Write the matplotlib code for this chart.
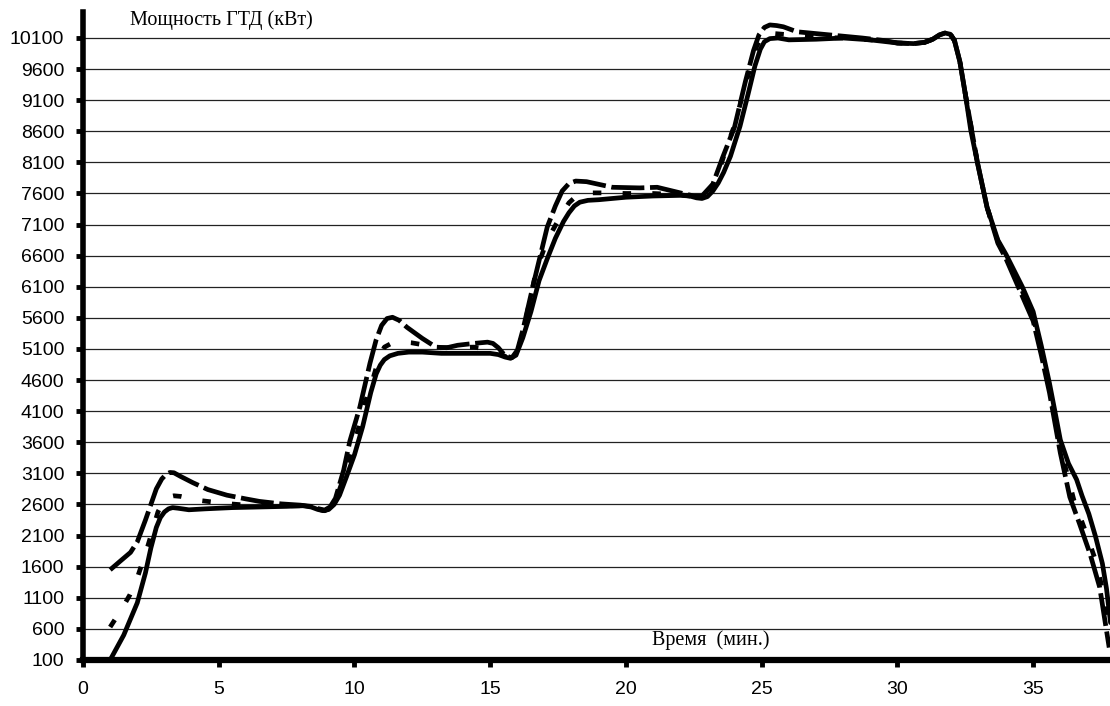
import matplotlib
matplotlib.use("Agg")
import matplotlib.pyplot as plt

# Solid curve
t_solid = [1.0, 1.5, 2.0, 2.3, 2.5, 2.7, 2.85, 3.0, 3.15, 3.3, 3.5, 3.9, 4.5, 5.5, 6.5, 7.5, 8.1, 8.4, 8.65, 8.85,
           9.05, 9.25, 9.45, 9.7, 10.0, 10.3, 10.6, 10.8, 10.95, 11.1, 11.3, 11.6, 12.0, 12.5, 13.2, 14.0, 15.0, 15.3,
           15.55, 15.75, 15.95, 16.2, 16.5, 16.8, 17.1, 17.4, 17.7, 17.9, 18.1, 18.3, 18.6, 19.0, 20.0, 21.0, 22.0,
           22.35, 22.6, 22.8, 23.0, 23.2, 23.4, 23.6, 23.85, 24.2, 24.5, 24.75, 24.95, 25.1, 25.3, 25.6, 26.0, 27.0,
           28.0, 29.0, 30.0, 30.6, 31.0, 31.3, 31.55, 31.75, 31.95, 32.1, 32.3, 32.5, 32.7, 32.95, 33.3, 33.7, 34.0,
           34.3, 34.6, 35.0, 35.3, 35.6, 35.8, 36.0, 36.3, 36.6, 36.8, 37.05, 37.3, 37.55, 37.7, 37.85]
p_solid = [100, 500, 1020, 1500, 1900, 2230, 2390, 2480, 2530, 2550, 2540, 2515, 2530, 2550, 2560, 2570, 2580, 2560,
           2520, 2500, 2520, 2600, 2750, 3040, 3400, 3850, 4400, 4700, 4840, 4930, 4990, 5030, 5050, 5050, 5030, 5030,
           5030, 5010, 4970, 4950, 5000, 5280, 5700, 6200, 6550, 6880, 7150, 7290, 7400, 7460, 7490, 7500, 7540, 7560,
           7570, 7560, 7530, 7520, 7550, 7640, 7770, 7940, 8200, 8680, 9200, 9650, 9920, 10040, 10090, 10100, 10070,
           10080, 10100, 10070, 10020, 10010, 10030, 10080, 10150, 10180, 10160, 10060, 9720, 9200, 8620, 8090, 7380,
           6850, 6620, 6360, 6100, 5700, 5150, 4550, 4100, 3640, 3260, 3000, 2740, 2450, 2080, 1650, 1250, 700]

# Long-dash curve (with overshoots)
t_long = [1.0, 1.4, 1.75, 2.0, 2.3, 2.5, 2.7, 2.9, 3.05, 3.2, 3.35, 3.6, 4.05, 4.6, 5.3, 6.0, 6.5, 7.3, 8.0, 8.4,
          8.7, 8.9, 9.1, 9.3, 9.6, 9.83, 10.2, 10.57, 10.8, 11.0, 11.2, 11.4, 11.65, 11.93, 12.5, 13.0, 13.4, 13.8,
          14.4, 14.9, 15.1, 15.3, 15.55, 15.8, 16.0, 16.2, 16.6, 17.1, 17.4, 17.65, 17.9, 18.15, 18.55, 19.5, 20.5,
          21.15, 22.0, 22.5, 22.8, 23.2, 23.57, 24.0, 24.4, 24.7, 24.9, 25.1, 25.3, 25.55, 25.8, 26.3, 27.5, 28.7,
          29.5, 30.0, 30.6, 31.0, 31.3, 31.55, 31.75, 31.95, 32.1, 32.3, 32.5, 32.95, 33.3, 33.7, 34.0, 34.3, 34.6,
          35.0, 35.3, 35.6, 36.0, 36.35, 36.7, 37.1, 37.45, 37.8]
p_long = [1550, 1700, 1830, 2000, 2350, 2600, 2850, 3010, 3080, 3115, 3110, 3050, 2950, 2840, 2750, 2690, 2650, 2610,
          2590, 2570, 2530, 2510, 2560, 2700, 3150, 3620, 4170, 4870, 5250, 5480, 5590, 5610, 5560, 5450, 5270, 5130,
          5120, 5160, 5190, 5210, 5190, 5120, 4990, 4960, 5080, 5400, 6160, 7060, 7400, 7640, 7760, 7800, 7790, 7700,
          7690, 7700, 7610, 7560, 7560, 7750, 8190, 8670, 9400, 9900, 10150, 10270, 10310, 10300, 10280, 10200, 10150,
          10100, 10060, 10020, 10010, 10030, 10080, 10150, 10180, 10160, 10060, 9720, 9200, 8090, 7380, 6800, 6550,
          6250, 5950, 5550, 5000, 4400, 3430, 2720, 2300, 1800, 1270, 300]

# Short-dash curve
t_short = [1.0, 1.4, 1.73, 2.0, 2.4, 2.76, 2.95, 3.13, 3.35, 3.6, 4.2, 5.15, 6.0, 7.0, 8.0, 8.4, 8.7, 8.9, 9.1, 9.4,
           9.7, 10.1, 10.4, 10.7, 10.9, 11.1, 11.4, 11.8, 12.1, 13.15, 14.4, 15.0, 15.3, 15.55, 15.8, 16.0, 16.2,
           16.7, 17.1, 17.57, 17.9, 18.2, 18.6, 19.15, 20.0, 21.0, 22.0, 22.5, 22.75, 23.0, 23.35, 23.6, 24.0, 24.4,
           24.8, 25.0, 25.2, 25.5, 26.05, 27.0, 28.0, 29.0, 30.0, 30.6, 31.0, 31.3, 31.55, 31.75, 31.95, 32.1, 32.3,
           32.5, 32.95, 33.3, 33.7, 34.0, 34.3, 34.6, 35.0, 35.3, 35.6, 36.05, 36.5, 36.9, 37.3, 37.6, 37.85]
p_short = [630, 900, 1150, 1420, 1950, 2480, 2640, 2720, 2740, 2730, 2670, 2620, 2590, 2580, 2580, 2560, 2520, 2500,
           2540, 2780, 3150, 3750, 4250, 4650, 4950, 5130, 5200, 5210, 5200, 5120, 5130, 5090, 5040, 4980, 4960, 5050,
           5350, 6370, 6850, 7220, 7450, 7570, 7610, 7610, 7600, 7600, 7580, 7550, 7530, 7600, 7850, 8200, 8700, 9350,
           9950, 10120, 10180, 10170, 10150, 10110, 10100, 10070, 10020, 10010, 10030, 10080, 10150, 10180, 10160,
           10060, 9720, 9200, 8090, 7380, 6830, 6600, 6300, 6030, 5620, 5080, 4480, 3430, 2670, 2200, 1700, 1150, 500]

x_ticks = [0, 5, 10, 15, 20, 25, 30, 35]
y_ticks = list(range(100, 10101, 500))
y_title = "Мощность ГТД (кВт)"
x_title = "Время  (мин.)"

fig = plt.figure(figsize=(11.1, 7.06), dpi=100)
ax = fig.add_axes([83 / 1110, 1 - 660 / 706, 1 - 83 / 1110, (660 - 12) / 706])
ax.set_xlim(0, 37.83)
ax.set_ylim(100, 10518)

for y in y_ticks[1:]:
    ax.axhline(y, color="#222222", lw=0.9, zorder=1)

ax.plot(t_solid, p_solid, color="black", lw=3.4, solid_joinstyle="round", solid_capstyle="round", zorder=4)
ax.plot(t_long, p_long, color="black", lw=3.4, dashes=(7, 1.2), zorder=3)
ax.plot(t_short, p_short, color="black", lw=3.4, dashes=(1.8, 4.5), zorder=3)

ax.spines["top"].set_visible(False)
ax.spines["right"].set_visible(False)
ax.spines["left"].set_linewidth(4)
ax.spines["bottom"].set_linewidth(4.5)
ax.spines["left"].set_bounds(100, 10518)

ax.set_xticks(x_ticks)
ax.set_yticks(y_ticks)
ax.set_xticklabels([str(v) for v in x_ticks], fontsize=14, family="Liberation Sans")
ax.set_yticklabels([str(v) for v in y_ticks], fontsize=14, family="Liberation Sans")
ax.tick_params(axis="both", direction="out", length=5, width=3.5)
ax.tick_params(axis="y", pad=8.5)
ax.tick_params(axis="x", pad=10)

fig.text(130 / 1110, 1 - 20 / 706, y_title, fontsize=14.5, family="Liberation Serif", va="center", ha="left")
fig.text(652 / 1110, 1 - 640 / 706, x_title, fontsize=14.5, family="Liberation Serif", va="center", ha="left")

fig.savefig("out.png", dpi=100)
